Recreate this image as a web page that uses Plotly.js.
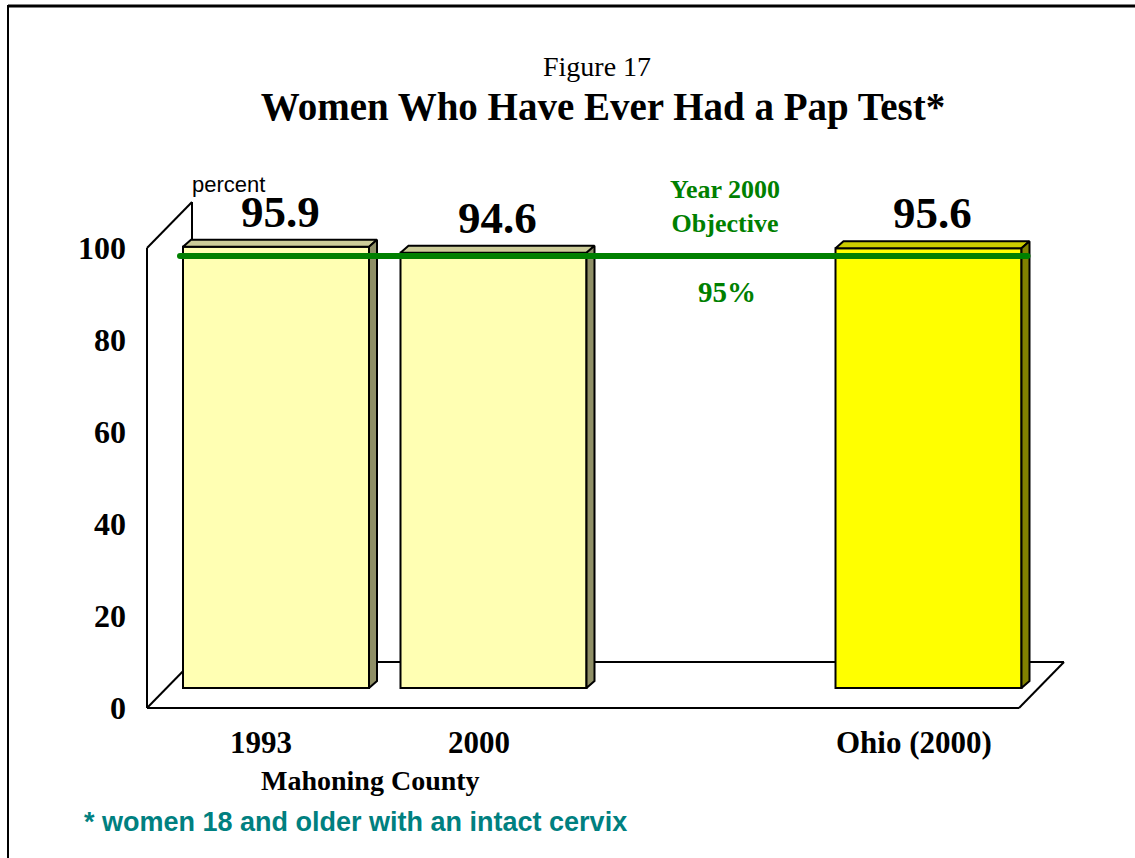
<!DOCTYPE html>
<html>
<head>
<meta charset="utf-8">
<script src="https://cdn.plot.ly/plotly-3.0.1.min.js"></script>
<style>html,body{margin:0;padding:0;background:#fff;}#chart{width:1135px;height:858px;}</style>
</head>
<body>
<div id="chart"></div>
<script>
// ---- data ----
const categories = ['1993', '2000', 'Ohio (2000)'];
const values = [95.9, 94.6, 95.6];
const groupLabel = 'Mahoning County';
const objectiveValue = 95;
const objectiveLabel = 'Year 2000<br>Objective';
const objectiveText = '95%';
const yTickVals = [0, 20, 40, 60, 80, 100];
const yTickText = ['0', '20', '40', '60', '80', '100'];
const figureLabel = 'Figure 17';
const titleText = 'Women Who Have Ever Had a Pap Test*';
const footnote = '* women 18 and older with an intact cervix';
const unitLabel = 'percent';

// ---- layout geometry (pixels) ----
const W = 1135, H = 858;
const PX_SLOT = 217.5, PX_UNIT = 4.6;
const SLOT0_PX = 276, FRONT_ZERO_PX = 708;
const sx = p => p / PX_SLOT;
const sy = p => p / PX_UNIT;
const slots = categories.map((c, i) => (i < 2 ? i : i + 1));
const barW = sx(186);
const barBase = sy(20);
const faceDx = sx(8), faceDy = sy(7);
const wallDx = sx(45), wallDy = sy(46);
const wallLeft = sx(147 - SLOT0_PX);
const floorRight = sx(1019 - SLOT0_PX);

const frontCol = ['#FFFFB3', '#FFFFB3', '#FFFF00'];
const topCol = ['#CCCC99', '#CCCC99', '#CCCC00'];
const sideCol = ['#8F8F66', '#8F8F66', '#808000'];
const serif = 'Liberation Serif, Times New Roman, serif';
const sans = 'Liberation Sans, Arial, sans-serif';
const green = '#008000';

const traces = [];
traces.push({
  type: 'bar', x: slots, y: values, base: values.map(() => barBase), width: barW,
  marker: {color: frontCol, line: {color: '#000', width: 2}},
  hoverinfo: 'skip'
});
values.forEach((v, i) => {
  const x0 = slots[i] - barW / 2, x1 = slots[i] + barW / 2, top = barBase + v;
  traces.push({
    type: 'scatter', mode: 'lines', fill: 'toself', fillcolor: topCol[i],
    x: [x0, x0 + faceDx, x1 + faceDx, x1, x0], y: [top, top + faceDy, top + faceDy, top, top],
    line: {color: '#000', width: 2}, hoverinfo: 'skip'
  });
  traces.push({
    type: 'scatter', mode: 'lines', fill: 'toself', fillcolor: sideCol[i],
    x: [x1, x1 + faceDx, x1 + faceDx, x1, x1], y: [barBase, barBase + faceDy, top + faceDy, top, barBase],
    line: {color: '#000', width: 2}, hoverinfo: 'skip'
  });
});
const lineY = objectiveValue + sy(15);
const lineX0 = slots[0] - barW / 2 - sx(3);
const lineX1 = slots[slots.length - 1] + barW / 2 + sx(6);
traces.push({
  type: 'scatter', mode: 'lines+markers', x: [lineX0, lineX1], y: [lineY, lineY],
  line: {color: green, width: 6}, marker: {color: green, size: 6}, hoverinfo: 'skip'
});

const lineShape = (x0, y0, x1, y1) => ({type: 'line', xref: 'x', yref: 'y', x0, y0, x1, y1,
  layer: 'below', line: {color: '#000', width: 2}});
const shapes = [
  lineShape(wallLeft, 0, wallLeft, 100),
  lineShape(wallLeft, 100, wallLeft + wallDx, 100 + wallDy),
  lineShape(wallLeft + wallDx, wallDy, wallLeft + wallDx, 100 + wallDy),
  lineShape(wallLeft, 0, floorRight, 0),
  lineShape(floorRight, 0, floorRight + wallDx, wallDy),
  lineShape(wallLeft + wallDx, wallDy, floorRight + wallDx, wallDy),
  lineShape(wallLeft, 0, wallLeft + wallDx, wallDy),
  {type: 'line', xref: 'paper', yref: 'paper', x0: 8 / W, x1: 1, y0: 1 - 6 / H, y1: 1 - 6 / H,
    line: {color: '#000', width: 3}},
  {type: 'line', xref: 'paper', yref: 'paper', x0: 8 / W, x1: 8 / W, y0: 0, y1: 1 - 5 / H,
    line: {color: '#000', width: 2}}
];

const annotations = [];
yTickVals.forEach((v, i) => annotations.push({
  x: wallLeft, y: v, xref: 'x', yref: 'y', text: '<b>' + yTickText[i] + '</b>', showarrow: false,
  xanchor: 'right', yanchor: 'middle', xshift: -19, font: {family: serif, size: 32, color: '#000'}
}));
values.forEach((v, i) => annotations.push({
  x: slots[i], y: barBase + v, xref: 'x', yref: 'y', text: '<b>' + v.toFixed(1) + '</b>', showarrow: false,
  xanchor: 'center', yanchor: 'middle', xshift: 4, yshift: 35, font: {family: serif, size: 45, color: '#000'}
}));
categories.forEach((c, i) => annotations.push({
  x: slots[i], y: 0, xref: 'x', yref: 'y', text: '<b>' + c + '</b>', showarrow: false,
  xanchor: 'center', yanchor: 'middle', xshift: -15, yshift: -34, font: {family: serif, size: 31, color: '#000'}
}));
annotations.push({
  x: (slots[0] + slots[1]) / 2, y: 0, xref: 'x', yref: 'y', text: '<b>' + groupLabel + '</b>', showarrow: false,
  xanchor: 'center', yanchor: 'middle', xshift: -14, yshift: -72, font: {family: serif, size: 28, color: '#000'}
});
annotations.push({
  x: 2, y: lineY, xref: 'x', yref: 'y', text: '<b>' + objectiveLabel + '</b>', showarrow: false,
  xanchor: 'center', yanchor: 'middle', xshift: 14, yshift: 50, font: {family: serif, size: 26, color: green}
});
annotations.push({
  x: 2, y: lineY, xref: 'x', yref: 'y', text: '<b>' + objectiveText + '</b>', showarrow: false,
  xanchor: 'center', yanchor: 'middle', xshift: 16, yshift: -36, font: {family: serif, size: 29, color: green}
});
annotations.push({
  x: wallLeft + wallDx, y: 100, xref: 'x', yref: 'y', text: unitLabel, showarrow: false,
  xanchor: 'left', yanchor: 'middle', xshift: -2, yshift: 64, font: {family: sans, size: 22, color: '#000'}
});
annotations.push({
  x: 597 / W, y: 1 - 67 / H, xref: 'paper', yref: 'paper', text: figureLabel, showarrow: false,
  xanchor: 'center', yanchor: 'middle', font: {family: serif, size: 28, color: '#000'}
});
annotations.push({
  x: 82 / W, y: 1 - 822 / H, xref: 'paper', yref: 'paper', text: '<b>' + footnote + '</b>', showarrow: false,
  xanchor: 'left', yanchor: 'middle', font: {family: sans, size: 27, color: '#008080'}
});

const layout = {
  width: W, height: H,
  margin: {l: 0, r: 0, t: 0, b: 0, pad: 0},
  paper_bgcolor: '#fff', plot_bgcolor: '#fff',
  showlegend: false,
  title: {text: '<b>' + titleText + '</b>', font: {family: serif, size: 39, color: '#000'},
    x: 603 / W, xanchor: 'center', y: 1 - 106 / H, yanchor: 'middle'},
  xaxis: {range: [sx(-SLOT0_PX), sx(W - SLOT0_PX)], visible: false, fixedrange: true},
  yaxis: {range: [-sy(H - FRONT_ZERO_PX), sy(FRONT_ZERO_PX)], visible: false, fixedrange: true},
  shapes, annotations
};
Plotly.newPlot('chart', traces, layout, {staticPlot: true, displayModeBar: false});
</script>
</body>
</html>
